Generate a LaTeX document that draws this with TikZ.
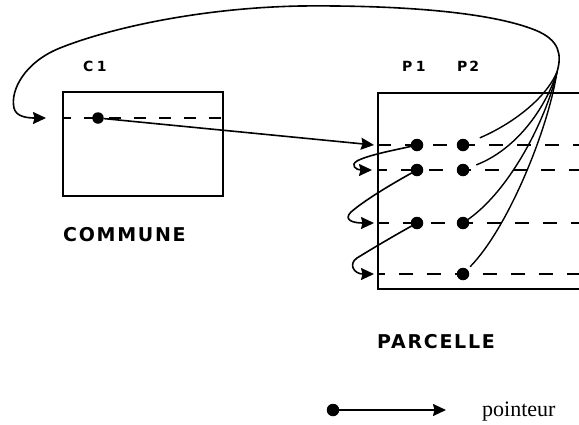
\documentclass[tikz,border=0pt]{standalone}
\usepackage{fontspec}
\usetikzlibrary{arrows.meta}
\newfontfamily\lblfont[LetterSpace=9]{DejaVu Sans}
\newfontfamily\smlfont{DejaVu Sans}
\newfontfamily\legfont{Liberation Serif}
\begin{document}
\begin{tikzpicture}[x=1pt,y=-1pt,
  box/.style={draw, line width=1.6pt, inner sep=0pt, rectangle},
  dashline/.style={line width=1.5pt, dash pattern=on 14pt off 14pt},
  dot/.style={circle, fill=black, inner sep=0pt, minimum size=12.5pt, outer sep=0pt},
  ptr/.style={line width=1.6pt, -{Stealth[length=13pt,width=12pt,inset=1.5pt]}},
  link/.style={line width=1.4pt},
  lbl/.style={font=\lblfont\bfseries\fontsize{19}{22}\selectfont, inner sep=0pt},
  sml/.style={font=\smlfont\bfseries\fontsize{14}{16}\selectfont, inner sep=0pt}]
\clip (0,0) rectangle (579,424);
\useasboundingbox (0,0) rectangle (579,424);

% boxes
\node[box, minimum width=160pt, minimum height=104pt, anchor=north west] (commune) at (62,91) {};
\node[box, minimum width=320pt, minimum height=196pt, anchor=north west] (parcelle) at (377,92) {};

% dashed record lines
\draw[dashline, dash pattern=on 12pt off 13pt, dash phase=3pt] (62,118) -- (222,118);
\draw[dashline] (377,145) -- (590,145);
\draw[dashline, dash phase=4pt] (377,170) -- (590,170);
\draw[dashline, dash phase=2pt] (377,223) -- (590,223);
\draw[dashline, dash phase=6pt] (377,274) -- (590,274);

% labels
\node[sml, anchor=base west] (c1lbl) at (83,71) {C\kern3.5pt1};
\node[sml, anchor=base west] (p1lbl) at (402,71) {P\kern3.5pt1};
\node[sml, anchor=base west] (p2lbl) at (457,71) {P\kern2pt2};
\node[lbl, anchor=base west] (commlbl) at (63,241) {COMMUNE};
\node[lbl, anchor=base west] (parclbl) at (377,348) {PARCELLE};

% dots
\node[dot, minimum size=11.5pt] (c1dot) at (98,118) {};
\node[dot] (p1r1) at (417,145) {};
\node[dot] (p1r2) at (417,170) {};
\node[dot] (p1r3) at (417,223) {};
\node[dot] (p2r1) at (463,145) {};
\node[dot] (p2r2) at (463,170) {};
\node[dot] (p2r3) at (463,223) {};
\node[dot] (p2r4) at (463,274) {};

% free ends
\coordinate (c1in) at (46,118);
\coordinate (r1in) at (374,145);
\coordinate (r2in) at (372,170);
\coordinate (r3in) at (374,223);
\coordinate (r4in) at (374,274);
\coordinate (hub) at (557,72);

% C1 -> first parcelle
\draw[ptr] (c1dot) -- (r1in);

% P1 chain
\draw[ptr] (p1r1) .. controls (395,150) and (368,155) .. (357,161)
  .. controls (350,165) and (356,170) .. (r2in);
\draw[ptr] (p1r2) .. controls (390,185) and (365,200) .. (351,212)
  .. controls (343,220) and (353,223) .. (r3in);
\draw[ptr] (p1r3) .. controls (390,238) and (370,250) .. (357,258)
  .. controls (348,264) and (354,274) .. (r4in);

% P2 pointers to the commune
\draw[link, shorten <=12pt] (p2r1) .. controls (510,125) and (545,100) .. (hub);
\draw[link, shorten <=8pt] (p2r2) .. controls (515,150) and (545,110) .. (hub);
\draw[link] (p2r3) .. controls (510,190) and (546,120) .. (hub);
\draw[link, shorten <=4pt] (p2r4) .. controls (508,228) and (548,130) .. (hub);

% back to C1
\draw[ptr] (hub) .. controls (562,55) and (560,40) .. (535,30)
  .. controls (490,12) and (400,5) .. (300,6)
  .. controls (200,8) and (110,28) .. (60,48)
  .. controls (25,62) and (10,90) .. (14,108)
  .. controls (16,117) and (28,118) .. (c1in);

% legend
\node[dot] (legdot) at (333,410) {};
\coordinate (legtip) at (446,410);
\draw[ptr] (legdot) -- (legtip);
\node[anchor=base west, inner sep=0pt, font=\legfont\fontsize{22}{26}\selectfont] (legtxt) at (482,416) {pointeur};
\end{tikzpicture}
\end{document}
